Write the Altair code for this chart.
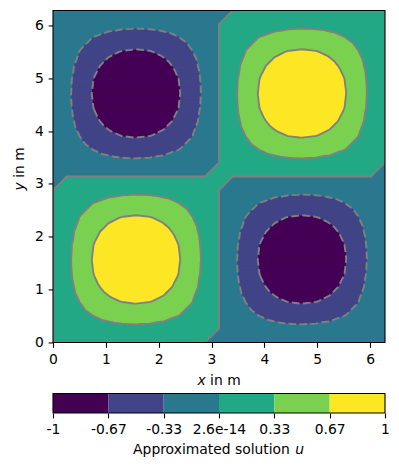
import numpy as np
import pandas as pd
import altair as alt

# ---------------- data ----------------
# nodal values of the approximated solution along one mesh line (24 intervals on [0, 2*pi])
profile = [0.0, 0.2588, 0.5, 0.7071, 0.866, 0.9659, 1.0, 0.9659, 0.866, 0.7071, 0.5, 0.2588,
           0.0, -0.2588, -0.5, -0.7071, -0.866, -0.9659, -1.0, -0.9659, -0.866, -0.7071,
           -0.5, -0.2588, 0.0]
zero_line_value = 2.65e-14          # residual nodal value left on interior zero lines x=pi, y=pi
levels = [-1.0, -0.6667, -0.3333, 2.6e-14, 0.3333, 0.6667, 1.0]
level_labels = ["-1", "-0.67", "-0.33", "2.6e-14", "0.33", "0.67", "1"]
band_colors = ["#440154", "#414487", "#2a788e", "#22a884", "#7ad151", "#fde725"]
axis_ticks = [0, 1, 2, 3, 4, 5, 6]
x_title = ["x", "in m"]
y_title = ["y", "in m"]
cbar_title = ["Approximated solution", "u"]

# ---------------- build field on the triangle mesh ----------------
p = np.array(profile)
n = len(p) - 1
LEN = 2 * np.pi
h = LEN / n
V = np.outer(p, p)
mid = n // 2
V[mid, 1:n] = zero_line_value
V[1:n, mid] = zero_line_value
band_names = [f"b{k}" for k in range(len(band_colors))]

# fill: sample the piecewise-linear interpolant, run-length encode rows
R = 332
c = (np.arange(R) + 0.5) / R * LEN
edges = np.arange(R + 1) / R * LEN
dy = LEN / R
X, Y = np.meshgrid(c, c)
i = np.minimum((X / h).astype(int), n - 1)
s = X / h - i
j = np.minimum((Y / h).astype(int), n - 1)
t = Y / h - j
v00 = V[i, j]; v10 = V[i + 1, j]; v01 = V[i, j + 1]; v11 = V[i + 1, j + 1]
val = np.where(s >= t, v00 + s * (v10 - v00) + t * (v11 - v10),
               v00 + t * (v01 - v00) + s * (v11 - v01))
band = np.clip(np.searchsorted(np.array(levels), val, side="right") - 1, 0, len(band_colors) - 1)

row_runs = []
for r in range(R):
    b = band[r]
    st = np.r_[0, np.nonzero(np.diff(b))[0] + 1]
    en = np.r_[st[1:], R]
    row_runs.append(tuple((int(a), int(e), int(b[a])) for a, e in zip(st, en)))

fill_rows = []
r = 0
while r < R:
    r2 = r
    while r2 + 1 < R and row_runs[r2 + 1] == row_runs[r]:
        r2 += 1
    for a, e, bb in row_runs[r]:
        # each strip overlaps the next one up by one row; later strips paint over it (no seams)
        fill_rows.append(dict(x=edges[a], x2=edges[e], y=edges[r], y2=edges[r2 + 1] + dy,
                              band=band_names[bb]))
    r = r2 + 1
fill_df = pd.DataFrame(fill_rows)

# contour lines: exact segments inside each triangle, chained into polylines
def triangles():
    for a in range(n):
        for b in range(n):
            yield ((a, b), (a + 1, b), (a + 1, b + 1))
            yield ((a, b), (a, b + 1), (a + 1, b + 1))

line_rows = []
pid = 0
for lv in levels[1:-1]:
    adj, pts, segs = {}, {}, []
    for tri in triangles():
        cr = []
        for a_, b_ in ((0, 1), (1, 2), (2, 0)):
            pa, pb = tri[a_], tri[b_]
            va, vb = V[pa] - lv, V[pb] - lv
            if (va < 0) != (vb < 0):
                tt = va / (va - vb)
                key = (min(pa, pb), max(pa, pb))
                pts[key] = ((pa[0] + tt * (pb[0] - pa[0])) * h, (pa[1] + tt * (pb[1] - pa[1])) * h)
                cr.append(key)
        if len(cr) == 2:
            sid = len(segs)
            segs.append(cr)
            for k in cr:
                adj.setdefault(k, []).append(sid)
    used = [False] * len(segs)
    starts = [k for k, v in adj.items() if len(v) == 1] + list(adj.keys())
    for k0 in starts:
        if not any(not used[sd] for sd in adj[k0]):
            continue
        chain = [k0]
        k = k0
        while True:
            nxt = [sd for sd in adj[k] if not used[sd]]
            if not nxt:
                break
            sd = nxt[0]
            used[sd] = True
            a, b = segs[sd]
            k = b if a == k else a
            chain.append(k)
        for o, k in enumerate(chain):
            line_rows.append(dict(pid=pid, order=o, x=pts[k][0], y=pts[k][1], neg=lv < 0))
        pid += 1
line_df = pd.DataFrame(line_rows)

# ---------------- chart ----------------
W = 332
CB_H = 19.6
FS = 13.9
FONT = "DejaVu Sans"
GRAY = "#808080"

xs = alt.Scale(domain=[0, LEN], nice=False, zero=False)
ys = alt.Scale(domain=[0, LEN], nice=False, zero=False)
cscale = alt.Scale(domain=band_names, range=band_colors)
ax_common = dict(values=axis_ticks, format="d", title=None, grid=False, domain=False,
                 labelFlush=False, labelOverlap=False)

fill = alt.Chart(fill_df).mark_rect(clip=True).encode(
    x=alt.X("x:Q", scale=xs, axis=alt.Axis(**ax_common)),
    x2="x2:Q",
    y=alt.Y("y:Q", scale=ys, axis=alt.Axis(**ax_common)),
    y2="y2:Q",
    color=alt.Color("band:N", scale=cscale, legend=None),
)

solid = alt.Chart(line_df[~line_df["neg"]]).mark_line(
    color=GRAY, strokeWidth=1.9, clip=True, strokeJoin="round").encode(
    x=alt.X("x:Q", scale=xs), y=alt.Y("y:Q", scale=ys), detail="pid:N", order="order:Q")
dashed = alt.Chart(line_df[line_df["neg"]]).mark_line(
    color=GRAY, strokeWidth=1.9, clip=True, strokeDash=[7.7, 3.3]).encode(
    x=alt.X("x:Q", scale=xs), y=alt.Y("y:Q", scale=ys), detail="pid:N", order="order:Q")

one = pd.DataFrame({"a": [0]})
frame = alt.Chart(one).mark_rect(fillOpacity=0, stroke="black", strokeWidth=1.1).encode(
    x=alt.value(0), x2=alt.value(W), y=alt.value(0), y2=alt.value(W))


def label(text, x, y, italic=False, angle=0):
    kw = dict(align="left", baseline="alphabetic", font=FONT, fontSize=FS, color="black", text=text)
    if italic:
        kw["fontStyle"] = "italic"
    if angle:
        kw["angle"] = angle
    return alt.Chart(one).mark_text(**kw).encode(x=alt.value(x), y=alt.value(y))


xt0 = 144.5
xt1 = xt0 + 12.6
yt0 = 180.0
yt1 = yt0 - 12.6
titles = [
    label(x_title[0], xt0, 375, italic=True),
    label(x_title[1], xt1, 375),
    label(y_title[0], -28.7, yt0, italic=True, angle=270),
    label(y_title[1], -28.7, yt1, angle=270),
]
spacer_top = alt.Chart(one).mark_rule(opacity=0).encode(
    x=alt.value(-44.7), x2=alt.value(0), y=alt.value(100))
spacer_bot = alt.Chart(one).mark_rule(opacity=0, strokeWidth=1).encode(
    x=alt.value(10), y=alt.value(W), y2=alt.value(380))

main = alt.layer(fill, solid, dashed, frame, *titles, spacer_top, spacer_bot).properties(
    width=W, height=W)

# colorbar
cb_df = pd.DataFrame({"lo": levels[:-1], "hi": levels[1:], "band": band_names})
expr = ""
for k in range(len(levels) - 1):
    cut = (levels[k] + levels[k + 1]) / 2
    expr += f"datum.value < {cut} ? '{level_labels[k]}' : "
expr += f"'{level_labels[-1]}'"

cbar_rects = alt.Chart(cb_df).mark_rect().encode(
    x=alt.X("lo:Q", scale=alt.Scale(domain=[levels[0], levels[-1]], nice=False, zero=False),
            axis=alt.Axis(values=levels, labelExpr=expr, title=None, grid=False, domain=False,
                          labelFlush=False, labelOverlap=False)),
    x2="hi:Q",
    y=alt.value(0), y2=alt.value(CB_H),
    color=alt.Color("band:N", scale=cscale, legend=None),
)
cb_frame = alt.Chart(one).mark_rect(fillOpacity=0, stroke="black", strokeWidth=1.1).encode(
    x=alt.value(0), x2=alt.value(W), y=alt.value(0), y2=alt.value(CB_H))
ct0 = 80.1
ct1 = ct0 + 157.8 + 4.4
cb_titles = [label(cbar_title[0], ct0, 60.8), label(cbar_title[1], ct1, 60.8, italic=True)]
cb_spacer = alt.Chart(one).mark_rule(opacity=0).encode(
    x=alt.value(-44.7), x2=alt.value(0), y=alt.value(10))
cbar = alt.layer(cbar_rects, cb_frame, *cb_titles, cb_spacer).properties(width=W, height=CB_H)

chart = alt.vconcat(main, cbar, spacing=2).properties(
    padding={"left": 0, "top": 1.45, "right": 0, "bottom": 0}
).configure_view(strokeWidth=0).configure_axis(
    labelFont=FONT, labelFontSize=FS, labelColor="black", tickColor="black",
    tickWidth=1.1, tickSize=4.86, labelPadding=4.86,
).resolve_scale(color="shared")

chart.save("out.html", embed_options={"renderer": "svg", "actions": False})
